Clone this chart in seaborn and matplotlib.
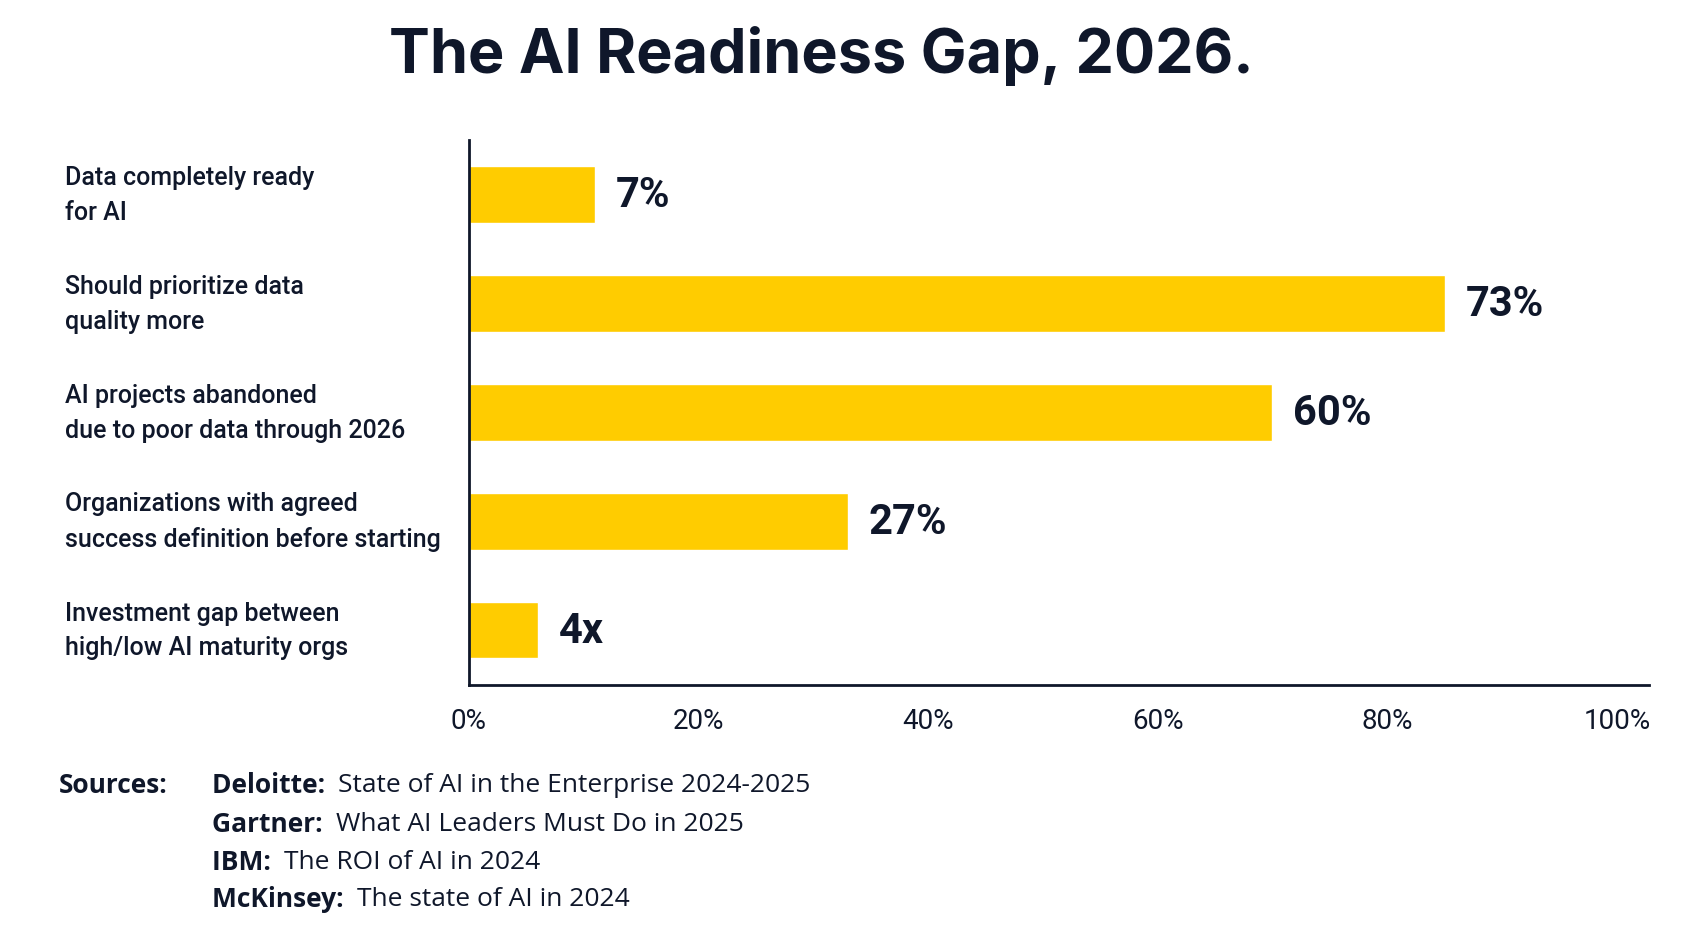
import matplotlib
matplotlib.use("Agg")
import matplotlib.pyplot as plt
import seaborn as sns
import pandas as pd
from matplotlib.ticker import PercentFormatter

categories = [
    "Data completely ready\nfor AI",
    "Should prioritize data\nquality more",
    "AI projects abandoned\ndue to poor data through 2026",
    "Organizations with agreed\nsuccess definition before starting",
    "Investment gap between\nhigh/low AI maturity orgs",
]
bar_lengths = [11, 85, 70, 33, 6]   # drawn length as it appears on the axis
value_labels = ["7%", "73%", "60%", "27%", "4x"]
sources = [
    ("Deloitte:", "State of AI in the Enterprise 2024-2025"),
    ("Gartner:", "What AI Leaders Must Do in 2025"),
    ("IBM:", "The ROI of AI in 2024"),
    ("McKinsey:", "The state of AI in 2024"),
]

navy = "#0f172a"
yellow = "#FFCC00"

sns.set_style("white")
plt.rcParams["font.family"] = ["Roboto", "DejaVu Sans"]

df = pd.DataFrame({"cat": categories, "val": bar_lengths})
fig = plt.figure(figsize=(16.93, 9.29), dpi=100)
ax = fig.add_axes([0.277, 0.262, 0.697, 0.586])
sns.barplot(data=df, x="val", y="cat", color=yellow, width=0.52, ax=ax,
            saturation=1)

ax.set_xlim(0, 102.8)
ax.set_xticks([0, 20, 40, 60, 80, 100])
ax.xaxis.set_major_formatter(PercentFormatter(decimals=0))
ax.tick_params(axis="x", labelsize=20, colors=navy, length=6, width=1.5, pad=10)
ax.set_xlabel("")
ax.set_ylabel("")
ax.set_yticks(range(len(categories)))
ax.set_yticklabels([])
ax.tick_params(axis="y", length=0)
for s in ["top", "right"]:
    ax.spines[s].set_visible(False)
for s in ["left", "bottom"]:
    ax.spines[s].set_color(navy)
    ax.spines[s].set_linewidth(2)

for i, (cat, v, lab) in enumerate(zip(categories, bar_lengths, value_labels)):
    ax.text(-0.342, i, cat, transform=ax.get_yaxis_transform(), ha="left",
            va="center", fontsize=18, color=navy, fontweight="medium",
            linespacing=1.55)
    ax.text(v + 1.8, i, lab, ha="left", va="center", fontsize=30,
            fontweight="bold", color=navy)

fig.text(0.485, 0.94, "The AI Readiness Gap, 2026.", ha="center", va="center",
         fontsize=44, fontweight="bold", color=navy,
         family=["Inter", "DejaVu Sans"])

src_font = ["Open Sans", "DejaVu Sans"]
fig.text(0.035, 0.154, "Sources:", ha="left", va="center", fontsize=19,
         fontweight="bold", color=navy, family=src_font)
ys = [0.154, 0.113, 0.072, 0.032]
for (name, title), y in zip(sources, ys):
    t = fig.text(0.125, y, name + "  ", ha="left", va="center", fontsize=19,
                 fontweight="bold", color=navy, family=src_font)
    fig.canvas.draw()
    bb = t.get_window_extent()
    x2 = bb.x1 / fig.bbox.width
    fig.text(x2, y, title, ha="left", va="center", fontsize=19, color=navy,
             family=src_font)

fig.savefig("out.png", dpi=100, facecolor="white")
